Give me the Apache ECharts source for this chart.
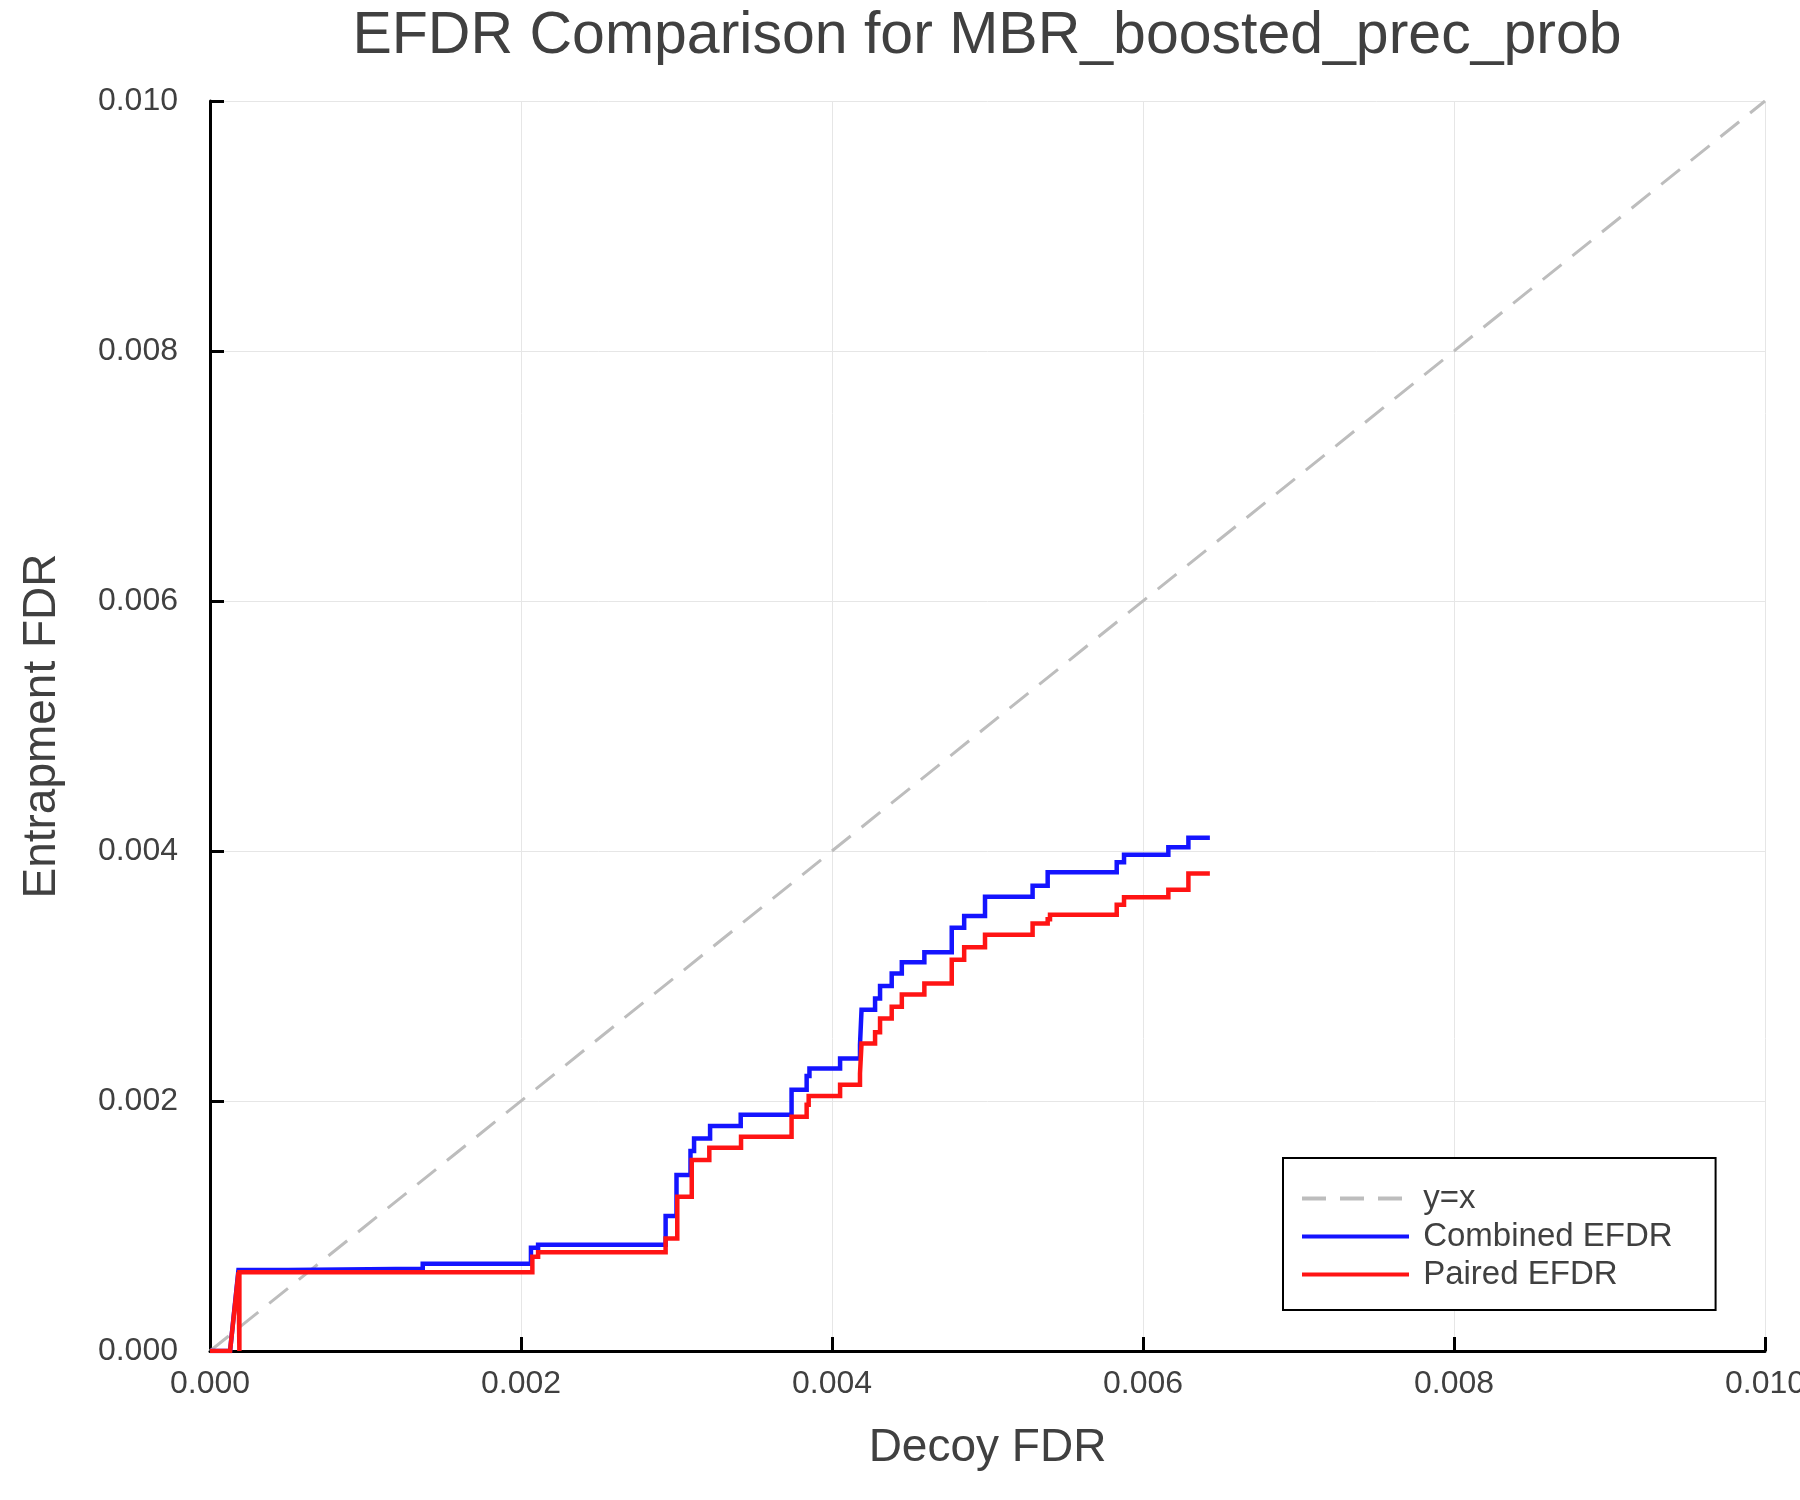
<!DOCTYPE html>
<html>
<head>
<meta charset="utf-8">
<script src="https://cdn.jsdelivr.net/npm/echarts@6/dist/echarts.min.js"></script>
<style>
html,body{margin:0;padding:0;background:#fff;overflow:hidden;}
#chart{width:1800px;height:1500px;}
</style>
</head>
<body>
<div id="chart"></div>
<script>
// ---- data ----
const axisTicks = [0.000, 0.002, 0.004, 0.006, 0.008, 0.010];
const diagonal = [[0, 0], [0.01, 0.01]];

// Combined EFDR: start path, then step positions (x) and value after the step (y)
const combinedStart = [[0, 0], [0.000129, 0], [0.000183, 0.000648]];
const combinedStepX = [0.000502, 0.001368, 0.002064, 0.00211, 0.00293, 0.0030, 0.00309, 0.003113, 0.003216, 0.003413,
  0.00374, 0.003837, 0.003855, 0.004052, 0.00418, 0.00419, 0.004277, 0.004309, 0.004384, 0.004449,
  0.004594, 0.00477, 0.00485, 0.004984, 0.00529, 0.005387, 0.005831, 0.005878, 0.006163, 0.006292];
const combinedStepY = [0.000658, 0.000699, 0.000827, 0.00085, 0.00108, 0.001408, 0.0016, 0.0017, 0.0018, 0.00189,
  0.00209, 0.0022, 0.00226, 0.00234, 0.00245, 0.00273, 0.00282, 0.00292, 0.00302, 0.00311,
  0.00319, 0.003387, 0.00348, 0.003635, 0.003723, 0.00383, 0.00391, 0.00397, 0.00403, 0.004107];
const combinedEndX = 0.00643;

// Paired EFDR
const pairedStart = [[0, 0], [0.000129, 0], [0.000183, 0.00063], [0.000189, 0], [0.000189, 0.00063]];
const pairedStepX = [0.002073, 0.00211, 0.00293, 0.003005, 0.003098, 0.003211, 0.003415, 0.00374, 0.003837, 0.00385,
  0.004052, 0.00418, 0.00419, 0.004277, 0.004309, 0.004384, 0.004449, 0.004594, 0.00477, 0.00485,
  0.004984, 0.00529, 0.005387, 0.005402, 0.005831, 0.005878, 0.006163, 0.006292];
const pairedStepY = [0.000755, 0.00079, 0.0009, 0.001235, 0.001528, 0.001627, 0.001715, 0.001875, 0.00197, 0.00204,
  0.00213, 0.00222, 0.00246, 0.00255, 0.00266, 0.002755, 0.002853, 0.00294, 0.00313, 0.00323,
  0.00333, 0.00342, 0.003455, 0.00349, 0.00357, 0.00363, 0.00369, 0.00382];
const pairedEndX = 0.00643;

const seriesNames = ['y=x', 'Combined EFDR', 'Paired EFDR'];
const titleText = 'EFDR Comparison for MBR_boosted_prec_prob';
const xName = 'Decoy FDR';
const yName = 'Entrapment FDR';

function buildSteps(start, xs, ys, endX) {
  const pts = start.map(p => p.slice());
  let prev = start[start.length - 1][1];
  for (let i = 0; i < xs.length; i++) {
    pts.push([xs[i], prev]);
    pts.push([xs[i], ys[i]]);
    prev = ys[i];
  }
  pts.push([endX, prev]);
  return pts;
}

const FONT = "'Liberation Sans', Arial, Helvetica, sans-serif";
const TXT = '#404040';

const chart = echarts.init(document.getElementById('chart'), null, {renderer: 'canvas', width: 1800, height: 1500});
chart.setOption({
  animation: false,
  backgroundColor: '#ffffff',
  title: {
    text: titleText,
    left: 982,
    top: 2,
    textAlign: 'center',
    textStyle: {fontFamily: FONT, fontSize: 59, fontWeight: 'normal', color: TXT}
  },
  grid: {left: 210, right: 35, top: 101, bottom: 149, containLabel: false, outerBoundsMode: 'none'},
  legend: {
    orient: 'vertical',
    left: 1283,
    top: 1158,
    padding: [24, 43, 19, 17],
    itemGap: 5,
    itemWidth: 107,
    itemHeight: 2,
    borderColor: '#000',
    borderWidth: 2,
    backgroundColor: '#fff',
    data: seriesNames,
    itemStyle: {opacity: 0},
    lineStyle: {width: 4},
    formatter: name => ' ' + name,
    textStyle: {fontFamily: FONT, fontSize: 33, color: TXT}
  },
  xAxis: {
    type: 'value',
    min: axisTicks[0],
    max: axisTicks[axisTicks.length - 1],
    interval: 0.002,
    name: xName,
    nameLocation: 'middle',
    nameGap: 74,
    nameTextStyle: {fontFamily: FONT, fontSize: 46, color: TXT},
    axisLine: {show: true, onZero: false, lineStyle: {color: '#000', width: 3}},
    axisTick: {show: true, inside: true, length: 14, lineStyle: {color: '#000', width: 3}},
    axisLabel: {show: true, showMaxLabel: true, showMinLabel: true, hideOverlap: false, margin: 17, fontFamily: FONT, fontSize: 32, color: TXT,
      formatter: v => v.toFixed(3)},
    splitLine: {show: true, lineStyle: {color: '#e6e6e6', width: 1}}
  },
  yAxis: {
    type: 'value',
    min: axisTicks[0],
    max: axisTicks[axisTicks.length - 1],
    interval: 0.002,
    name: yName,
    nameLocation: 'middle',
    nameRotate: 90,
    nameGap: 145,
    nameTextStyle: {fontFamily: FONT, fontSize: 46, color: TXT},
    axisLine: {show: true, onZero: false, lineStyle: {color: '#000', width: 3}},
    axisTick: {show: true, inside: true, length: 14, lineStyle: {color: '#000', width: 3}},
    axisLabel: {show: true, margin: 32, fontFamily: FONT, fontSize: 32, color: TXT,
      formatter: v => v.toFixed(3)},
    splitLine: {show: true, lineStyle: {color: '#e6e6e6', width: 1}}
  },
  series: [
    {
      name: seriesNames[0], type: 'line', data: diagonal, symbol: 'none', silent: true,
      lineStyle: {color: '#bdbdbd', width: 3, type: [24, 14]},
      itemStyle: {color: '#bdbdbd'}
    },
    {
      name: seriesNames[1], type: 'line', data: buildSteps(combinedStart, combinedStepX, combinedStepY, combinedEndX),
      symbol: 'none', lineStyle: {color: '#1414ff', width: 4.5, join: 'miter'}, itemStyle: {color: '#1414ff'}
    },
    {
      name: seriesNames[2], type: 'line', data: buildSteps(pairedStart, pairedStepX, pairedStepY, pairedEndX),
      symbol: 'none', lineStyle: {color: '#ff1414', width: 4.5, join: 'miter'}, itemStyle: {color: '#ff1414'}
    }
  ]
});
</script>
</body>
</html>
